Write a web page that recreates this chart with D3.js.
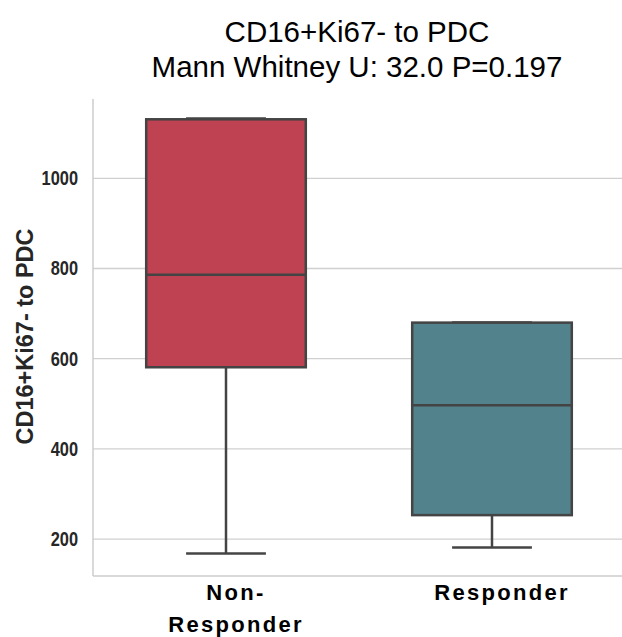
<!DOCTYPE html>
<html><head><meta charset="utf-8">
<script src="https://cdn.jsdelivr.net/npm/d3@7"></script>
<style>body{margin:0;background:#fff}svg{display:block}</style>
</head><body>
<svg id="c" width="622" height="637"></svg>
<script>
const categories = ["Non-Responder", "Responder"];
const categoryLines = [["Non-", "Responder"], ["Responder"]];
const whiskerLow = [168, 181];
const q1 = [581, 253];
const median = [786, 497];
const q3 = [1131, 680];
const whiskerHigh = [1133, 680];
const colors = ["#BE4252", "#52828C"];
const yTicks = [200, 400, 600, 800, 1000];
const titleLines = ["CD16+Ki67- to PDC", "Mann Whitney U: 32.0 P=0.197"];
const yLabel = "CD16+Ki67- to PDC";

const svg = d3.select("#c");
const mLeft = 93, mTop = 99, mBottom = 576, mRight = 625;
const font = "Liberation Sans, Arial, sans-serif";

const y = d3.scaleLinear().domain([118, 1176]).range([mBottom, mTop]);
const x = d3.scaleBand().domain(categories).range([mLeft, mRight]).paddingInner(0).paddingOuter(0);
const boxW = x.bandwidth() * 0.6;

// grid
svg.append("g").selectAll("line").data(yTicks).join("line")
  .attr("x1", mLeft).attr("x2", 622)
  .attr("y1", d => y(d)).attr("y2", d => y(d))
  .attr("stroke", "#d0d0d0").attr("stroke-width", 1.3);

// spines
svg.append("line").attr("x1", mLeft).attr("x2", mLeft).attr("y1", mTop).attr("y2", mBottom)
  .attr("stroke", "#cccccc").attr("stroke-width", 1.5);
svg.append("line").attr("x1", mLeft).attr("x2", 622).attr("y1", mBottom).attr("y2", mBottom)
  .attr("stroke", "#cccccc").attr("stroke-width", 1.5);

// y axis tick labels (condensed look)
const yAxis = d3.axisLeft(y).tickValues(yTicks).tickFormat(d3.format("d")).tickSize(0).tickPadding(15);
const ga = svg.append("g").attr("transform", `translate(${mLeft},0)`).call(yAxis);
ga.select(".domain").remove();
ga.selectAll("text").attr("font-family", font).attr("font-size", 20).attr("font-weight", "bold")
  .attr("fill", "#262626").attr("x", 0).attr("transform", "translate(-15,0) scale(0.82,1)");

// boxes
const stroke = "#444444", sw = 2.5;
categories.forEach((c, i) => {
  const cx = x(c) + x.bandwidth() / 2;
  const g = svg.append("g");
  g.append("line").attr("x1", cx).attr("x2", cx).attr("y1", y(whiskerLow[i])).attr("y2", y(q1[i]))
    .attr("stroke", stroke).attr("stroke-width", sw);
  g.append("line").attr("x1", cx).attr("x2", cx).attr("y1", y(q3[i])).attr("y2", y(whiskerHigh[i]))
    .attr("stroke", stroke).attr("stroke-width", sw);
  g.append("line").attr("x1", cx - boxW / 4).attr("x2", cx + boxW / 4)
    .attr("y1", y(whiskerLow[i])).attr("y2", y(whiskerLow[i])).attr("stroke", stroke).attr("stroke-width", sw);
  g.append("line").attr("x1", cx - boxW / 4).attr("x2", cx + boxW / 4)
    .attr("y1", y(whiskerHigh[i])).attr("y2", y(whiskerHigh[i])).attr("stroke", stroke).attr("stroke-width", sw);
  g.append("rect").attr("x", cx - boxW / 2).attr("width", boxW)
    .attr("y", y(q3[i])).attr("height", y(q1[i]) - y(q3[i]))
    .attr("fill", colors[i]).attr("stroke", stroke).attr("stroke-width", sw);
  g.append("line").attr("x1", cx - boxW / 2).attr("x2", cx + boxW / 2)
    .attr("y1", y(median[i])).attr("y2", y(median[i])).attr("stroke", stroke).attr("stroke-width", sw);
  // x labels
  const lx = cx + 10;
  const t = svg.append("text").attr("x", lx).attr("y", 600)
    .attr("text-anchor", "middle").attr("font-family", font).attr("font-size", 22)
    .attr("font-weight", "bold").attr("fill", "#000").attr("letter-spacing", 2.3);
  categoryLines[i].forEach((l, k) => t.append("tspan").attr("x", lx).attr("dy", k === 0 ? 0 : 32).text(l));
});

// title
titleLines.forEach((l, k) => svg.append("text").attr("x", 357).attr("y", 42 + k * 35)
  .attr("text-anchor", "middle").attr("font-family", font).attr("font-size", 29.5).attr("fill", "#000").text(l));

// y label
svg.append("text").attr("transform", "translate(33,336.5) rotate(-90)")
  .attr("text-anchor", "middle").attr("font-family", font).attr("font-size", 23.5)
  .attr("font-weight", "bold").attr("fill", "#262626").text(yLabel);
</script>
</body></html>
